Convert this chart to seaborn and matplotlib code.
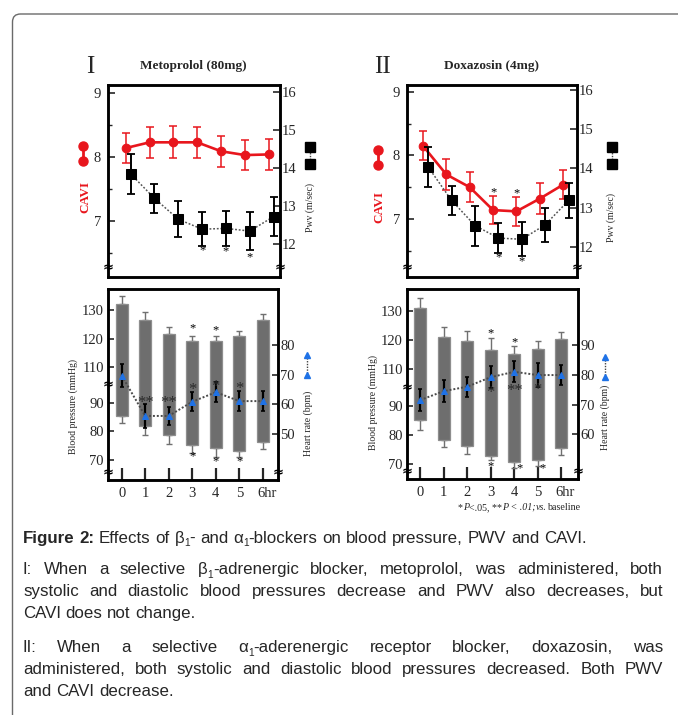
import numpy as np
import pandas as pd
import matplotlib
matplotlib.use("Agg")
import matplotlib.pyplot as plt
import seaborn as sns
from matplotlib.lines import Line2D
from matplotlib.patches import FancyBboxPatch
import matplotlib.transforms as mtransforms

sns.set_style("ticks")
SERIF = ["Liberation Serif", "DejaVu Serif"]
SANS = ["Liberation Sans", "DejaVu Sans"]
plt.rcParams["font.family"] = SERIF

# ---------------- data ----------------
hours = [0, 1, 2, 3, 4, 5, 6]
xtick_labels = ["0", "1", "2", "3", "4", "5", "6hr"]

# Panel I : Metoprolol
cavi_I = [8.14, 8.23, 8.23, 8.23, 8.09, 8.03, 8.04]
cavi_I_err = [0.24, 0.24, 0.25, 0.24, 0.24, 0.23, 0.24]
pwv_I = [13.84, 13.20, 12.65, 12.39, 12.41, 12.34, 12.72]
pwv_I_err = [0.52, 0.38, 0.47, 0.45, 0.45, 0.51, 0.52]
sys_I = [132.1, 126.6, 121.6, 119.2, 119.2, 120.8, 126.4]
sys_I_err = [2.7, 2.7, 2.4, 1.6, 1.6, 2.0, 2.0]
dia_I = [85.5, 81.7, 78.6, 75.2, 74.1, 73.2, 76.3]
dia_I_err = [2.7, 3.0, 3.1, 2.7, 3.2, 2.3, 2.6]
hr_I = [69.7, 56.1, 56.1, 60.9, 64.1, 61.1, 61.1]
hr_I_err = [3.8, 4.0, 3.1, 3.3, 3.4, 3.4, 3.5]

# Panel II : Doxazosin
cavi_II = [8.15, 7.70, 7.50, 7.14, 7.12, 7.32, 7.54]
cavi_II_err = [0.23, 0.24, 0.24, 0.22, 0.23, 0.24, 0.23]
pwv_II = [14.03, 13.18, 12.54, 12.22, 12.19, 12.56, 13.18]
pwv_II_err = [0.51, 0.37, 0.51, 0.39, 0.43, 0.44, 0.45]
sys_II = [131.1, 121.2, 119.8, 116.6, 115.3, 117.0, 120.3]
sys_II_err = [3.2, 3.4, 3.3, 4.0, 2.7, 2.8, 2.6]
dia_II = [85.1, 78.2, 76.3, 72.8, 70.8, 71.5, 75.6]
dia_II_err = [3.5, 2.5, 3.0, 1.4, 2.0, 2.0, 2.5]
hr_II = [71.5, 74.5, 76.0, 79.2, 81.0, 79.9, 79.9]
hr_II_err = [3.6, 3.6, 3.4, 3.8, 3.5, 3.9, 3.5]

titles = ["Metoprolol (80mg)", "Doxazosin (4mg)"]
panel_ids = ["I", "II"]

CAPTION = [
    ("^Figure ^2: Effects of β_1- and α_1-blockers on blood pressure, PWV and CAVI.", False),
    ("I: When a selective β_1-adrenergic blocker, metoprolol, was administered, both", True),
    ("systolic and diastolic blood pressures decrease and PWV also decreases, but", True),
    ("CAVI does not change.", False),
    ("II: When a selective α_1-aderenergic receptor blocker, doxazosin, was", True),
    ("administered, both systolic and diastolic blood pressures decreased. Both PWV", True),
    ("and CAVI decrease.", False),
]
CAPTION_Y = [543, 574, 596, 618, 652, 674, 696]

# ---------------- style ----------------
RED = "#e8161d"
BLUE = "#1f72e6"
BAR = "#6e6e6e"
W, H = 678, 715

fig = plt.figure(figsize=(W / 100, H / 100), dpi=100)
fig.patch.set_facecolor("white")


def rect(x0, y0, x1, y1):
    return [x0 / W, 1 - y1 / H, (x1 - x0) / W, (y1 - y0) / H]


def fx(x):
    return x / W


def fy(y):
    return 1 - y / H


# outer rounded border (top-left corner visible, rest runs off the canvas)
border = FancyBboxPatch((0.125, -0.5), 7.0, 7.51,
                        boxstyle="round,pad=0,rounding_size=0.08",
                        transform=fig.dpi_scale_trans, fill=False,
                        edgecolor="#6a6a6a", linewidth=1.0)
fig.patches.append(border)


def box_style(ax):
    for s in ax.spines.values():
        s.set_visible(True)
        s.set_linewidth(1.8)
        s.set_color("black")


def brk(ax, xf, yf):
    ax.text(xf, yf, "≈", transform=ax.transAxes, ha="center", va="center",
            fontsize=9.5, weight="bold", family=["DejaVu Sans"], color="black",
            zorder=10, clip_on=False)


LO, HI, K = 95.0, 105.0, 0.24


def fwd(v):
    v = np.asarray(v, dtype=float)
    return np.where(v < LO, v, np.where(v > HI, v - (HI - LO) * (1 - K), LO + (v - LO) * K))


def inv(t):
    t = np.asarray(t, dtype=float)
    thi = LO + (HI - LO) * K
    return np.where(t < LO, t, np.where(t > thi, t + (HI - LO) * (1 - K), LO + (t - LO) / K))


def top_panel(box, cavi, cavi_err, pwv, pwv_err, xlim, clim, plim, cdx, pdx,
              pwv_star_idx, pwv_star_y, cavi_star_idx, cavi_star_y):
    ax = fig.add_axes(rect(*box))
    axr = ax.twinx()
    xs_c = np.array(hours, dtype=float) + cdx
    xs_p = np.array(hours, dtype=float) + pdx
    ax.errorbar(xs_c, cavi, yerr=cavi_err, fmt="none", ecolor=RED, elinewidth=1.1,
                capsize=3.0, capthick=1.1, zorder=2)
    sns.lineplot(x=xs_c, y=cavi, ax=ax, color=RED, lw=1.9, marker="o", markersize=6.2,
                 markeredgecolor=RED, markerfacecolor=RED, zorder=3)
    axr.errorbar(xs_p, pwv, yerr=pwv_err, fmt="none", ecolor="black", elinewidth=1.4,
                 capsize=2.6, capthick=1.3, zorder=2)
    sns.lineplot(x=xs_p, y=pwv, ax=axr, color="#555555", lw=1.1, linestyle=(0, (1.2, 1.2)),
                 marker="s", markersize=6.5, markerfacecolor="black",
                 markeredgecolor="black", zorder=3)
    for i, yv in zip(pwv_star_idx, pwv_star_y):
        axr.text(xs_p[i], yv, "*", ha="center", va="center", fontsize=9, color="black")
    for i, yv in zip(cavi_star_idx, cavi_star_y):
        ax.text(xs_c[i], yv, "*", ha="center", va="center", fontsize=9, color="black")
    ax.set_xlim(*xlim)
    ax.set_ylim(*clim)
    axr.set_ylim(*plim)
    ax.set_xticks([])
    axr.set_xticks([])
    ax.set_yticks([7, 8, 9])
    ax.set_yticks([6.5, 7.5, 8.5], minor=True)
    ax.tick_params(axis="y", which="major", direction="in", length=5, width=1.2,
                   labelsize=10.5, pad=5)
    ax.tick_params(axis="y", which="minor", direction="in", length=3, width=1.0)
    axr.set_yticks([12, 13, 14, 15, 16])
    axr.tick_params(axis="y", which="major", direction="in", length=5, width=1.2,
                    labelsize=10.5, pad=1.5)
    for a in (ax, axr):
        a.set_xlabel("")
        a.set_ylabel("")
        box_style(a)
    yb = 0.047
    brk(ax, 0, yb)
    brk(ax, 1, yb)
    return ax, axr


def bottom_panel(box, sysv, sys_err, dia, dia_err, hr, hr_err, xlim, bplim, hrlim,
                 hrticks, bar_star_up, bar_star_dn, hr_stars):
    ax = fig.add_axes(rect(*box))
    ax.set_yscale("function", functions=(fwd, inv))
    sysv = np.array(sysv)
    dia = np.array(dia)
    x = np.array(hours, dtype=float)
    z = np.zeros(len(x))
    ax.errorbar(x, sysv, yerr=[z, sys_err], fmt="none", ecolor="#707070",
                elinewidth=1.0, capsize=2.2, capthick=1.0, zorder=1)
    ax.errorbar(x, dia, yerr=[dia_err, z], fmt="none", ecolor="#707070",
                elinewidth=1.0, capsize=2.2, capthick=1.0, zorder=1)
    ax.bar(x, sysv - dia, bottom=dia, width=0.5, color=BAR, edgecolor="#8e8e8e",
           linewidth=0.9, zorder=2)
    for (xi, yv, s) in bar_star_up + bar_star_dn:
        ax.text(xi, yv, s, ha="center", va="center", fontsize=9, color="black", zorder=5)
    ax.set_xlim(*xlim)
    ax.set_ylim(*bplim)
    ax.set_yticks([70, 80, 90, 110, 120, 130])
    ax.set_yticklabels(["70", "80", "90", "110", "120", "130"])
    ax.yaxis.set_minor_locator(matplotlib.ticker.NullLocator())
    ax.tick_params(axis="y", direction="in", length=4, width=1.2, labelsize=10.5, pad=3)
    ax.set_xticks(hours)
    ax.set_xticklabels(xtick_labels)
    ax.tick_params(axis="x", direction="in", length=9, width=1.6, labelsize=10.5, pad=5)
    lab = ax.get_xticklabels()[-1]
    lab.set_horizontalalignment("left")
    lab.set_transform(lab.get_transform() + mtransforms.ScaledTranslation(-0.06, 0, fig.dpi_scale_trans))

    axh = ax.twinx()
    axh.errorbar(x, hr, yerr=hr_err, fmt="none", ecolor="black", elinewidth=1.6,
                 capsize=1.5, capthick=1.2, zorder=2)
    sns.lineplot(x=x, y=hr, ax=axh, color="#4a4a4a", lw=1.4, linestyle=(0, (1.0, 1.0)),
                 marker="^", markersize=5, markerfacecolor=BLUE, markeredgecolor=BLUE,
                 zorder=3)
    for (xi, yv, s) in hr_stars:
        axh.text(xi, yv, s, ha="center", va="center", fontsize=12, color="#2a2a2a", zorder=5)
    axh.set_ylim(*hrlim)
    axh.set_yticks(hrticks)
    axh.tick_params(axis="y", direction="in", length=4, width=1.2, labelsize=10.5, pad=1.5)
    for a in (ax, axh):
        a.set_xlabel("")
        a.set_ylabel("")
        box_style(a)
    bp_break = (fwd(100) - fwd(bplim[0])) / (fwd(bplim[1]) - fwd(bplim[0]))
    brk(ax, 0, float(bp_break))
    brk(ax, 0, 0.035)
    brk(ax, 1, 0.035)
    return ax, axh


# ---- Panel I ----
top_panel((108, 85, 280, 277), cavi_I, cavi_I_err, pwv_I, pwv_I_err,
          (-0.58, 6.64), (6.116, 9.13), (11.134, 16.176), 0.165, 0.37,
          [3, 4, 5], [11.84, 11.82, 11.64], [], [])
bottom_panel((108, 289, 278, 480), sys_I, sys_I_err, dia_I, dia_I_err, hr_I, hr_I_err,
             (-0.58, 6.64), (63.0, 137.3), (34.5, 98.9), [50, 60, 70, 80],
             [(3, 123.6, "*"), (4, 123.0, "*")],
             [(3, 71.2, "*"), (4, 69.4, "*"), (5, 69.4, "*")],
             [(1, 60.4, "**"), (2, 60.4, "**"), (3, 64.8, "*"), (4, 65.9, "*"), (5, 65.3, "*")])

# ---- Panel II ----
top_panel((407, 85, 577, 277), cavi_II, cavi_II_err, pwv_II, pwv_II_err,
          (-0.56, 6.71), (6.089, 9.105), (11.227, 16.128), 0.12, 0.35,
          [3, 4], [11.73, 11.62], [3, 4], [7.42, 7.40])
bottom_panel((407, 289, 578, 479), sys_II, sys_II_err, dia_II, dia_II_err, hr_II, hr_II_err,
             (-0.56, 6.71), (64.9, 137.5), (45.0, 108.8), [60, 70, 80, 90],
             [(3, 122.4, "*"), (4, 119.3, "*")],
             [(2.97, 69.1, "*"), (4.24, 68.6, "*"), (5.2, 68.7, "*")],
             [(3, 73.9, "*"), (4, 74.6, "**"), (5, 74.9, "*")])

# ---- titles, side labels and legend glyphs ----
fig.text(fx(90), fy(67), panel_ids[0], ha="center", va="center", fontsize=18)
fig.text(fx(382), fy(67), panel_ids[1], ha="center", va="center", fontsize=18)
fig.text(fx(193), fy(66), titles[0], ha="center", va="center", fontsize=9.5, weight="bold")
fig.text(fx(492), fy(66), titles[1], ha="center", va="center", fontsize=9.5, weight="bold")

for (cx, cy0, cy1, lx, ly) in [(83, 146, 161, 85, 197), (378, 150, 165, 379, 207)]:
    fig.add_artist(Line2D([fx(cx), fx(cx)], [fy(cy0), fy(cy1)], color=RED, lw=2,
                          marker="o", markersize=6.5, transform=fig.transFigure))
    fig.text(fx(lx), fy(ly), "CAVI", rotation=90, ha="center", va="center",
             color=RED, fontsize=9.5, weight="bold")
for (sx, sy0, sy1, lx, ly) in [(310, 147, 164, 310, 207), (611.5, 147, 164, 611.5, 217)]:
    fig.add_artist(Line2D([fx(sx), fx(sx)], [fy(sy0), fy(sy1)], color="#444444", lw=1.0,
                          linestyle=(0, (1, 1)), transform=fig.transFigure))
    fig.add_artist(Line2D([fx(sx), fx(sx)], [fy(sy0), fy(sy1)], linestyle="none",
                          marker="s", markersize=6.5, color="black",
                          transform=fig.transFigure))
    fig.text(fx(lx), fy(ly), "Pwv (m/sec)", rotation=90, ha="center", va="center",
             fontsize=7)
for (tx, ty0, ty1, lx, ly) in [(306.5, 355, 375, 308, 423), (605, 357, 377, 605, 417)]:
    fig.add_artist(Line2D([fx(tx), fx(tx)], [fy(ty0), fy(ty1)], color="#444444", lw=1.0,
                          linestyle=(0, (1, 1)), transform=fig.transFigure))
    fig.add_artist(Line2D([fx(tx), fx(tx)], [fy(ty0), fy(ty1)], linestyle="none",
                          marker="^", markersize=4.5, color=BLUE,
                          transform=fig.transFigure))
    fig.text(fx(lx), fy(ly), "Heart rate (bpm)", rotation=90, ha="center", va="center",
             fontsize=7)
for (lx, ly) in [(73, 407), (373, 403)]:
    fig.text(fx(lx), fy(ly), "Blood pressure (mmHg)", rotation=90, ha="center",
             va="center", fontsize=7)

# ---------------- text runs (footnote, caption) ----------------
renderer = fig.canvas.get_renderer()


def seg_width(s, props):
    t = fig.text(0, 0, "|" + s + "|", **props)
    w1 = t.get_window_extent(renderer).width
    t.set_text("||")
    w2 = t.get_window_extent(renderer).width
    t.remove()
    return w1 - w2


def draw_segs(x, ybase, segs):
    for s, props, dy in segs:
        fig.text(fx(x), fy(ybase + dy), s, ha="left", va="baseline", **props)
        x += seg_width(s, props)
    return x


# footnote
fn_reg = dict(family=SERIF, fontsize=7.2)
fn_it = dict(family=SERIF, fontsize=7.2, style="italic")
fn_segs = [("*", fn_reg, 0), ("P", fn_it, 0), ("<.05, **", fn_reg, 0), ("P", fn_it, 0),
           (" < .01;", fn_it, 0), ("vs.", fn_it, 0), ("baseline", fn_reg, 0)]
draw_segs(458, 510, fn_segs)

CAP_FS = 12.2
cap_reg = dict(family=SANS, fontsize=CAP_FS)
cap_bold = dict(family=SANS, fontsize=CAP_FS, weight="bold")
cap_sub = dict(family=SANS, fontsize=CAP_FS * 0.6)


def parse_word(word):
    props = cap_reg
    if word.startswith("^"):
        word = word[1:]
        props = cap_bold
    parts = word.split("_")
    segs = []
    if parts[0]:
        segs.append((parts[0], props, 0))
    for p in parts[1:]:
        segs.append((p[0], cap_sub, 3.5))
        if p[1:]:
            segs.append((p[1:], props, 0))
    return segs


def word_width(segs):
    return sum(seg_width(s, p) for s, p, _ in segs)


LEFT, RIGHT = 23, 663
space_w = seg_width(" ", cap_reg)
for (line, justify), yb in zip(CAPTION, CAPTION_Y):
    words = [parse_word(w) for w in line.split(" ")]
    widths = [word_width(w) for w in words]
    if justify and len(words) > 1:
        gap = (RIGHT - LEFT - sum(widths)) / (len(words) - 1)
    else:
        gap = space_w
    x = LEFT
    for segs, w in zip(words, widths):
        draw_segs(x, yb, segs)
        x += w + gap

fig.savefig("out.png", dpi=100, facecolor="white")
